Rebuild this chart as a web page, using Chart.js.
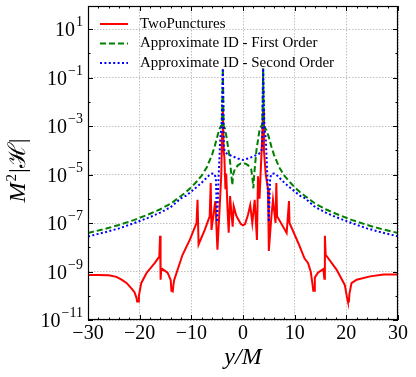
<!DOCTYPE html>
<html>
<head>
<meta charset="utf-8">
<script src="https://cdn.jsdelivr.net/npm/chart.js@4.4.0/dist/chart.umd.min.js"></script>
<style>
  body { margin: 0; background: #fff; }
  canvas { display: block; }
</style>
</head>
<body>
<canvas id="chart" width="416" height="377"></canvas>
<script>
// TwoPunctures (red)
const tpX = [-30, -28, -26, -24.5, -23.5, -22.5, -21.6, -21.0, -20.6, -20.5, -20.3, -20.15, -19.7, -18.7, -17.1, -16.2, -16.05, -15.95, -15.85, -15.6,
  -14.6, -14.0, -13.85, -13.6, -13.45, -13.3, -11.7, -10.3, -9.0, -8.8, -8.6, -7.4, -6.45, -6.25, -6.1, -5.5, -5.35, -4.95, -4.5, -4.2,
  -4.05, -3.9, -3.75, -3.6, -3.4, -3.25, -3.0, -2.77, -2.5, -2.2, -2.0, -1.8, -1.3, -0.9, -0.4, 0, 0.4, 0.97, 1.4, 1.8,
  2.26, 2.7, 2.9, 3.2, 3.55, 3.75, 3.9, 4.05, 4.4, 4.84, 5.0, 5.5, 5.8, 6.3, 6.45, 6.6, 8.45, 8.9, 9.0, 10.7,
  11.9, 12.6, 13.1, 13.45, 13.6, 13.75, 13.9, 14.5, 15.55, 15.75, 15.85, 16.0, 18.1, 19.7, 20.15, 20.3, 20.5, 20.6, 21.0, 22.0,
  24.6, 27.2, 30];
const tpY = [7.2e-10, 7.2e-10, 7.0e-10, 6.0e-10, 4.6e-10, 3.3e-10, 2.0e-10, 1.4e-10, 8e-11, 5.8e-11, 5.8e-11, 1.0e-10, 3.3e-10, 8.5e-10, 2.2e-9, 4.1e-9, 3.0e-8, 4.6e-10, 1.0e-9, 1.26e-9,
  9e-10, 4.5e-10, 1.6e-10, 1.5e-10, 3e-10, 4.6e-10, 4.9e-9, 2.0e-8, 1.0e-7, 9e-7, 1.3e-8, 5.2e-8, 1.9e-7, 4.5e-6, 5.2e-8, 4.9e-7, 8e-7, 8e-9, 5e-7, 1e-5,
  5e-4, 5e-3, 1e-4, 5e-5, 2.5e-6, 1.1e-5, 4e-7, 4e-8, 1.3e-6, 2e-7, 7e-8, 5e-7, 2e-7, 1.4e-7, 9e-8, 8e-8, 9e-8, 2.2e-7, 5.5e-7, 1e-7,
  9e-7, 2e-8, 8.5e-6, 1e-6, 5.6e-5, 5e-4, 5e-3, 1e-4, 1e-5, 2.5e-6, 7e-9, 1.9e-7, 9e-7, 1e-7, 4.5e-6, 1.9e-7, 3.9e-8, 8e-7, 1e-7, 1.5e-8,
  3.5e-9, 2.2e-9, 1e-9, 3e-10, 1.6e-10, 1.6e-10, 5.6e-10, 9e-10, 1.26e-9, 5e-10, 3e-8, 4.9e-9, 1.2e-9, 2.8e-10, 8e-11, 5.8e-11, 5.8e-11, 1.2e-10, 3.3e-10, 4.6e-10,
  6.3e-10, 7.6e-10, 7.6e-10];

// Approximate ID - First Order (green)
const firstX = [-30, -27, -24, -21, -18, -16, -14, -12, -11, -10, -9, -8, -7, -6, -5.5, -5, -4.6, -4.3, -4.05, -3.9,
  -3.75, -3.5, -3.2, -2.6, -2.3, -2.07, -1.9, -1.6, -1.0, -0.5, 0, 0.5, 1.0, 1.6, 1.8, 2.0, 2.2, 2.6, 3.2, 3.6,
  3.75, 3.9, 4.05, 4.5, 5, 5.5, 6, 7, 8, 9, 10, 11, 12, 14, 16, 18, 21, 24, 27, 30];
const firstY = [3.9e-8, 5.5e-8, 8.3e-8, 1.35e-7, 2.4e-7, 3.7e-7, 6.3e-7, 1.3e-6, 1.9e-6, 3.0e-6, 5e-6, 9e-6, 2e-5, 6.5e-5, 1.4e-4, 3.5e-4, 7e-4, 1e-3, 1.1e-3, 0.24,
  1e-3, 8e-4, 3.6e-4, 5.4e-5, 1.2e-5, 3.7e-6, 1e-5, 1.6e-5, 2.4e-5, 2.8e-5, 2.9e-5, 2.8e-5, 2.4e-5, 1.6e-5, 8e-6, 2.7e-6, 1.2e-5, 1e-4, 6.9e-4, 1.05e-3,
  1.1e-3, 0.24, 1e-3, 6.9e-4, 3.5e-4, 1.4e-4, 6.5e-5, 2e-5, 9e-6, 5e-6, 3e-6, 1.9e-6, 1.3e-6, 6.3e-7, 3.7e-7, 2.4e-7, 1.35e-7, 8.3e-8, 5.5e-8, 3.9e-8];

// Approximate ID - Second Order (blue)
const secondX = [-30, -27, -24, -21, -18, -16, -14, -12, -11, -10, -9, -8, -7, -6.5, -6, -5.5, -5.25, -5.0, -4.7, -4.4,
  -4.15, -3.9, -3.7, -3.4, -3.0, -2, -1, 0, 1, 2, 3.0, 3.4, 3.7, 3.9, 4.15, 4.4, 4.7, 5.0, 5.25, 5.5,
  6, 6.5, 7, 8, 9, 10, 11, 12, 14, 16, 18, 21, 24, 27, 30];
const secondY = [2.8e-8, 4e-8, 6e-8, 1e-7, 1.75e-7, 2.7e-7, 4.5e-7, 1.05e-6, 1.35e-6, 2e-6, 3e-6, 4.6e-6, 7.5e-6, 9.5e-6, 1.1e-5, 1.05e-5, 7e-6, 1.1e-7, 1e-5, 3e-4,
  1e-3, 0.24, 1.2e-4, 8e-5, 7e-5, 5.6e-5, 4.6e-5, 4e-5, 4.6e-5, 5.6e-5, 7e-5, 8e-5, 1.2e-4, 0.24, 1e-3, 3e-4, 1e-5, 1.1e-7, 7e-6, 1.05e-5,
  1.1e-5, 9.5e-6, 7.5e-6, 4.6e-6, 3e-6, 2e-6, 1.35e-6, 1.05e-6, 4.5e-7, 2.7e-7, 1.75e-7, 1e-7, 6e-8, 4e-8, 2.8e-8];

const xTicks = [-30, -20, -10, 0, 10, 20, 30];
const yExps = [1, -1, -3, -5, -7, -9, -11];

const serif = '"Liberation Serif", "DejaVu Serif", serif';

function points(xs, ys) {
  return xs.map((x, i) => ({ x: x, y: ys[i] }));
}

function minus(v) {
  return v < 0 ? '\u2212' + Math.abs(v) : String(v);
}

// frame, inward ticks, tick labels, axis titles and legend
const decorations = {
  id: 'decorations',
  afterDraw(chart) {
    const ctx = chart.ctx;
    const a = chart.chartArea;
    const xs = chart.scales.x;
    const ys = chart.scales.y;
    ctx.save();
    ctx.strokeStyle = '#000';
    ctx.lineWidth = 1;

    // ticks
    ctx.beginPath();
    for (let v = -30; v <= 30; v += 2) {
      const px = Math.round(xs.getPixelForValue(v)) + 0.5;
      const len = v % 10 === 0 ? 5 : 2.5;
      ctx.moveTo(px, a.bottom); ctx.lineTo(px, a.bottom - len);
      ctx.moveTo(px, a.top); ctx.lineTo(px, a.top + len);
    }
    for (let e = -11; e <= 1; e++) {
      const py = Math.round(ys.getPixelForValue(Math.pow(10, e))) + 0.5;
      const len = yExps.includes(e) ? 5 : 2.5;
      ctx.moveTo(a.left, py); ctx.lineTo(a.left + len, py);
      ctx.moveTo(a.right, py); ctx.lineTo(a.right - len, py);
    }
    ctx.stroke();

    // frame
    ctx.lineWidth = 1.2;
    ctx.strokeRect(a.left + 0.5, a.top + 0.5, a.right - a.left - 1, a.bottom - a.top - 1);

    ctx.fillStyle = '#000';

    // x tick labels
    ctx.font = '20px ' + serif;
    ctx.textAlign = 'center';
    ctx.textBaseline = 'middle';
    xTicks.forEach(v => {
      ctx.fillText(minus(v), xs.getPixelForValue(v), a.bottom + 14);
    });

    // y tick labels 10^n
    yExps.forEach(e => {
      const py = ys.getPixelForValue(Math.pow(10, e));
      const ex = minus(e);
      ctx.font = '14px ' + serif;
      const w = ctx.measureText(ex).width;
      const xr = a.left - 5;
      ctx.textAlign = 'left';
      ctx.textBaseline = 'alphabetic';
      ctx.fillText(ex, xr - w, py - 3);
      ctx.font = '20px ' + serif;
      ctx.textAlign = 'right';
      ctx.textBaseline = 'middle';
      ctx.fillText('10', xr - w - 1, py + 2);
    });

    // x title
    ctx.font = 'italic 24px ' + serif;
    ctx.textAlign = 'center';
    ctx.textBaseline = 'middle';
    ctx.fillText('y/M', (a.left + a.right) / 2, 358);

    // y title M^2|H|
    ctx.save();
    ctx.translate(17, 170);
    ctx.rotate(-Math.PI / 2);
    const parts = [
      { t: 'M', f: 'italic 24px ' + serif, dy: 0 },
      { t: '2', f: '15px ' + serif, dy: -9 },
      { t: '|\u210B|', f: '24px ' + serif, dy: 0 }
    ];
    let total = 0;
    parts.forEach(p => { ctx.font = p.f; p.w = ctx.measureText(p.t).width; total += p.w + 1; });
    let x0 = -total / 2;
    ctx.textAlign = 'left';
    ctx.textBaseline = 'alphabetic';
    parts.forEach(p => {
      ctx.font = p.f;
      ctx.fillText(p.t, x0, 8 + p.dy);
      x0 += p.w + 1;
    });
    ctx.restore();

    // legend
    ctx.font = '15px ' + serif;
    ctx.textAlign = 'left';
    ctx.textBaseline = 'middle';
    chart.data.datasets.forEach((ds, i) => {
      const y = 24 + i * 19.5;
      ctx.strokeStyle = ds.borderColor;
      ctx.lineWidth = ds.borderWidth;
      ctx.setLineDash(ds.borderDash || []);
      ctx.beginPath();
      ctx.moveTo(100, y); ctx.lineTo(128, y);
      ctx.stroke();
      ctx.setLineDash([]);
      ctx.fillStyle = '#000';
      ctx.fillText(ds.label, 140, y);
    });
    ctx.restore();
  }
};

new Chart(document.getElementById('chart'), {
  type: 'line',
  data: {
    datasets: [
      { label: 'TwoPunctures', data: points(tpX, tpY), borderColor: '#ff0000', borderWidth: 2, order: 2 },
      { label: 'Approximate ID - First Order', data: points(firstX, firstY), borderColor: '#008000', borderWidth: 2, borderDash: [6, 3], order: 1 },
      { label: 'Approximate ID - Second Order', data: points(secondX, secondY), borderColor: '#0000ff', borderWidth: 2, borderDash: [2, 2.4], order: 0 }
    ]
  },
  options: {
    responsive: false,
    animation: false,
    events: [],
    layout: { padding: { left: 0, right: 18, top: 6, bottom: 0 } },
    elements: { point: { radius: 0 }, line: { tension: 0 } },
    plugins: { legend: { display: false }, tooltip: { enabled: false } },
    scales: {
      x: {
        type: 'linear',
        min: -30,
        max: 30,
        ticks: { display: false, stepSize: 10 },
        grid: { color: '#b0b0b0', lineWidth: 0.8, drawTicks: false },
        border: { display: false, dash: [1.5, 1.5] },
        afterFit: s => { s.height = 57; }
      },
      y: {
        type: 'logarithmic',
        min: 1e-11,
        max: 89,
        ticks: { display: false },
        grid: { color: '#b0b0b0', lineWidth: 0.8, drawTicks: false },
        border: { display: false, dash: [1.5, 1.5] },
        afterBuildTicks: s => { s.ticks = yExps.map(e => ({ value: Math.pow(10, e) })); },
        afterFit: s => { s.width = 88; }
      }
    }
  },
  plugins: [decorations]
});
</script>
</body>
</html>
